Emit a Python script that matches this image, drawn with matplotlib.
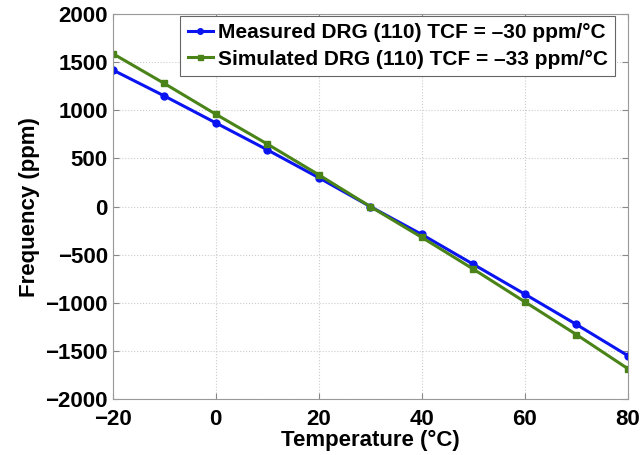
import matplotlib
matplotlib.use("Agg")
import matplotlib.pyplot as plt

plt.rcParams['font.family'] = ['Liberation Sans', 'DejaVu Sans']

# data
temp = [-20, -10, 0, 10, 20, 30, 40, 50, 60, 70, 80]
measured = [1420, 1150, 870, 590, 300, 0, -290, -600, -910, -1225, -1550]
simulated = [1590, 1280, 960, 650, 330, 0, -320, -650, -990, -1330, -1685]

xticks = [-20, 0, 20, 40, 60, 80]
yticks = [-2000, -1500, -1000, -500, 0, 500, 1000, 1500, 2000]
ytick_labels = ['\u22122000', '\u22121500', '\u22121000', '\u2212500', '0', '500', '1000', '1500', '2000']
xtick_labels = ['\u221220', '0', '20', '40', '60', '80']

fig = plt.figure(figsize=(6.44, 4.55), dpi=100)
ax = fig.add_axes([0.175, 0.123, 0.8, 0.846])

ax.plot(temp, measured, color='#0a14f0', lw=2.2, marker='o', ms=5,
        label='Measured DRG (110) TCF = \u201330 ppm/\u00b0C')
ax.plot(temp, simulated, color='#4a8418', lw=2.2, marker='s', ms=4.5,
        label='Simulated DRG (110) TCF = \u201333 ppm/\u00b0C')

ax.set_xlim(-20, 80)
ax.set_ylim(-2000, 2000)
ax.set_xticks(xticks)
ax.set_xticklabels(xtick_labels)
ax.set_yticks(yticks)
ax.set_yticklabels(ytick_labels)
ax.tick_params(direction='in', labelsize=16, length=4, color='#888888', top=True, right=True)
for lab in ax.get_xticklabels() + ax.get_yticklabels():
    lab.set_fontweight('bold')
ax.tick_params(axis='x', pad=7)
ax.grid(True, ls=':', color='#cccccc', lw=0.8)
for s in ax.spines.values():
    s.set_color('#999999')

ax.set_xlabel('Temperature (\u00b0C)', fontsize=16, fontweight='bold', labelpad=0)
ax.set_ylabel('Frequency (ppm)', fontsize=16, fontweight='bold', labelpad=4)

leg = ax.legend(loc='upper right', bbox_to_anchor=(0.975, 0.995),
                prop={'weight': 'bold', 'size': 15},
                fancybox=False, framealpha=1, edgecolor='#666666', handlelength=1.2,
                handletextpad=0.25, borderpad=0.35, labelspacing=0.35, borderaxespad=0.0,
                markerscale=0.8)
leg.get_frame().set_linewidth(0.8)

fig.savefig('out.png', dpi=100)
